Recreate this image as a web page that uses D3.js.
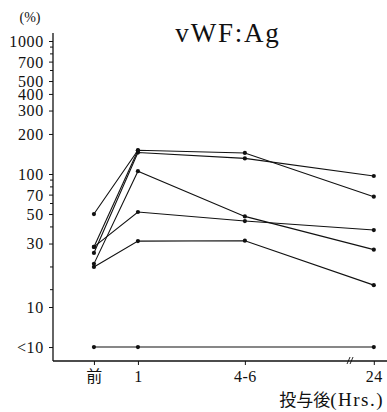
<!DOCTYPE html>
<html><head><meta charset="utf-8">
<script src="https://cdn.jsdelivr.net/npm/d3@7"></script>
<style>
html,body{margin:0;padding:0;background:#fff;}
svg{display:block;}
</style></head>
<body>
<svg id="chart" width="387" height="412"></svg>
<script>
// ---- data ----
const categories = ["前", "1", "4-6", "24"];
const categoryPos = [0, 1, 3.43, 6.36];          // positions on the broken time axis
const LT10 = 5;                                   // plotting value used for "<10"
const series1 = [50, 151, 144, 67.5];
const series2 = [25.5, 145, 131, 96.6];
const series3 = [21.1, 105, 48, 27];
const series4 = [28.3, 51.8, 44.3, 37.9];
const series5 = [20, 31.3, 31.5, 14.6];
const series6 = [28.3, 150, null, null];
const series7 = [LT10, LT10, null, LT10];
const allSeries = [series1, series2, series3, series4, series5, series6, series7];
const yTickValues = [1000, 700, 500, 400, 300, 200, 100, 70, 50, 30, 10, LT10];
const yTickLabels = ["1000", "700", "500", "400", "300", "200", "100", "70", "50", "30", "10", "<10"];
const yMinorTicks = [900, 800, 600, 90, 80, 60, 40, 20, 13.5];
const title = "vWF:Ag";
const yUnit = "(%)";
const xTitleJa = "投与後";
const xTitleUnit = "(Hrs.)";

const SERIF = "'Liberation Serif','DejaVu Serif','Noto Sans CJK JP',serif";

// ---- scales ----
const svg = d3.select("#chart");
const x = d3.scaleLinear().domain([-0.93, 6.66]).range([53, 387]);
const y = d3.scaleLog().domain([10, 1000]).range([307, 41]);
const axisY = 361, axisX = 53;

// y axis
const yAxis = d3.axisLeft(y).tickValues(yTickValues)
  .tickFormat((d, i) => yTickLabels[i]).tickSize(4).tickPadding(5);
const gy = svg.append("g").attr("transform", `translate(${axisX},0)`).call(yAxis)
  .attr("font-family", SERIF).attr("font-size", 16);
gy.select(".domain").remove();
gy.selectAll("line").attr("stroke", "#111");
gy.selectAll("text").attr("font-family", SERIF).style("font-size", "16px")
  .style("letter-spacing", "0.7px").attr("dy", "0.34em").attr("fill", "#111");
svg.append("g").selectAll("line").data(yMinorTicks).join("line")
  .attr("x1", axisX - 3).attr("x2", axisX).attr("y1", d => y(d)).attr("y2", d => y(d))
  .attr("stroke", "#111");
svg.append("line").attr("x1", axisX).attr("x2", axisX).attr("y1", 33).attr("y2", axisY)
  .attr("stroke", "#111").attr("stroke-width", 1.3);

// x axis
const xAxis = d3.axisBottom(x).tickValues(categoryPos)
  .tickFormat((d, i) => categories[i]).tickSize(4).tickPadding(6);
const gx = svg.append("g").attr("transform", `translate(0,${axisY})`).call(xAxis)
  .attr("font-family", SERIF).attr("font-size", 16);
gx.select(".domain").remove();
gx.selectAll("line").attr("stroke", "#111");
gx.selectAll("text").attr("font-family", SERIF).style("font-size", "16px")
  .style("letter-spacing", "0.5px").attr("fill", "#111");
svg.append("line").attr("x1", axisX).attr("x2", 387).attr("y1", axisY).attr("y2", axisY)
  .attr("stroke", "#111").attr("stroke-width", 1.3);

// axis break mark
const bx = x(5.82);
[-1.5, 1.5].forEach(o => {
  svg.append("line").attr("x1", bx + o - 1.5).attr("x2", bx + o + 1.5)
    .attr("y1", axisY + 3).attr("y2", axisY - 4).attr("stroke", "#111").attr("stroke-width", 0.9);
});

// lines and points
const line = d3.line().x(d => x(d[0])).y(d => y(d[1]));
allSeries.forEach(s => {
  const pts = s.map((v, i) => [categoryPos[i], v]).filter(p => p[1] != null);
  svg.append("path").datum(pts).attr("d", line)
    .attr("fill", "none").attr("stroke", "#111").attr("stroke-width", 1.1);
  svg.append("g").selectAll("circle").data(pts).join("circle")
    .attr("cx", d => x(d[0])).attr("cy", d => y(d[1])).attr("r", 2.1).attr("fill", "#111");
});

// texts
svg.append("text").attr("x", 228).attr("y", 42).attr("text-anchor", "middle")
  .attr("font-family", SERIF).style("font-size", "27px").style("letter-spacing", "1.8px")
  .attr("fill", "#111").text(title);
svg.append("text").attr("x", 30).attr("y", 22).attr("text-anchor", "middle")
  .attr("font-family", SERIF).style("font-size", "14px").attr("fill", "#111").text(yUnit);
const xt = svg.append("text").attr("x", 384).attr("y", 406).attr("text-anchor", "end")
  .attr("font-family", SERIF).attr("fill", "#111");
xt.append("tspan").style("font-size", "17px").text(xTitleJa);
xt.append("tspan").style("font-size", "19px").style("letter-spacing", "1.5px").text(xTitleUnit);
</script>
</body></html>
